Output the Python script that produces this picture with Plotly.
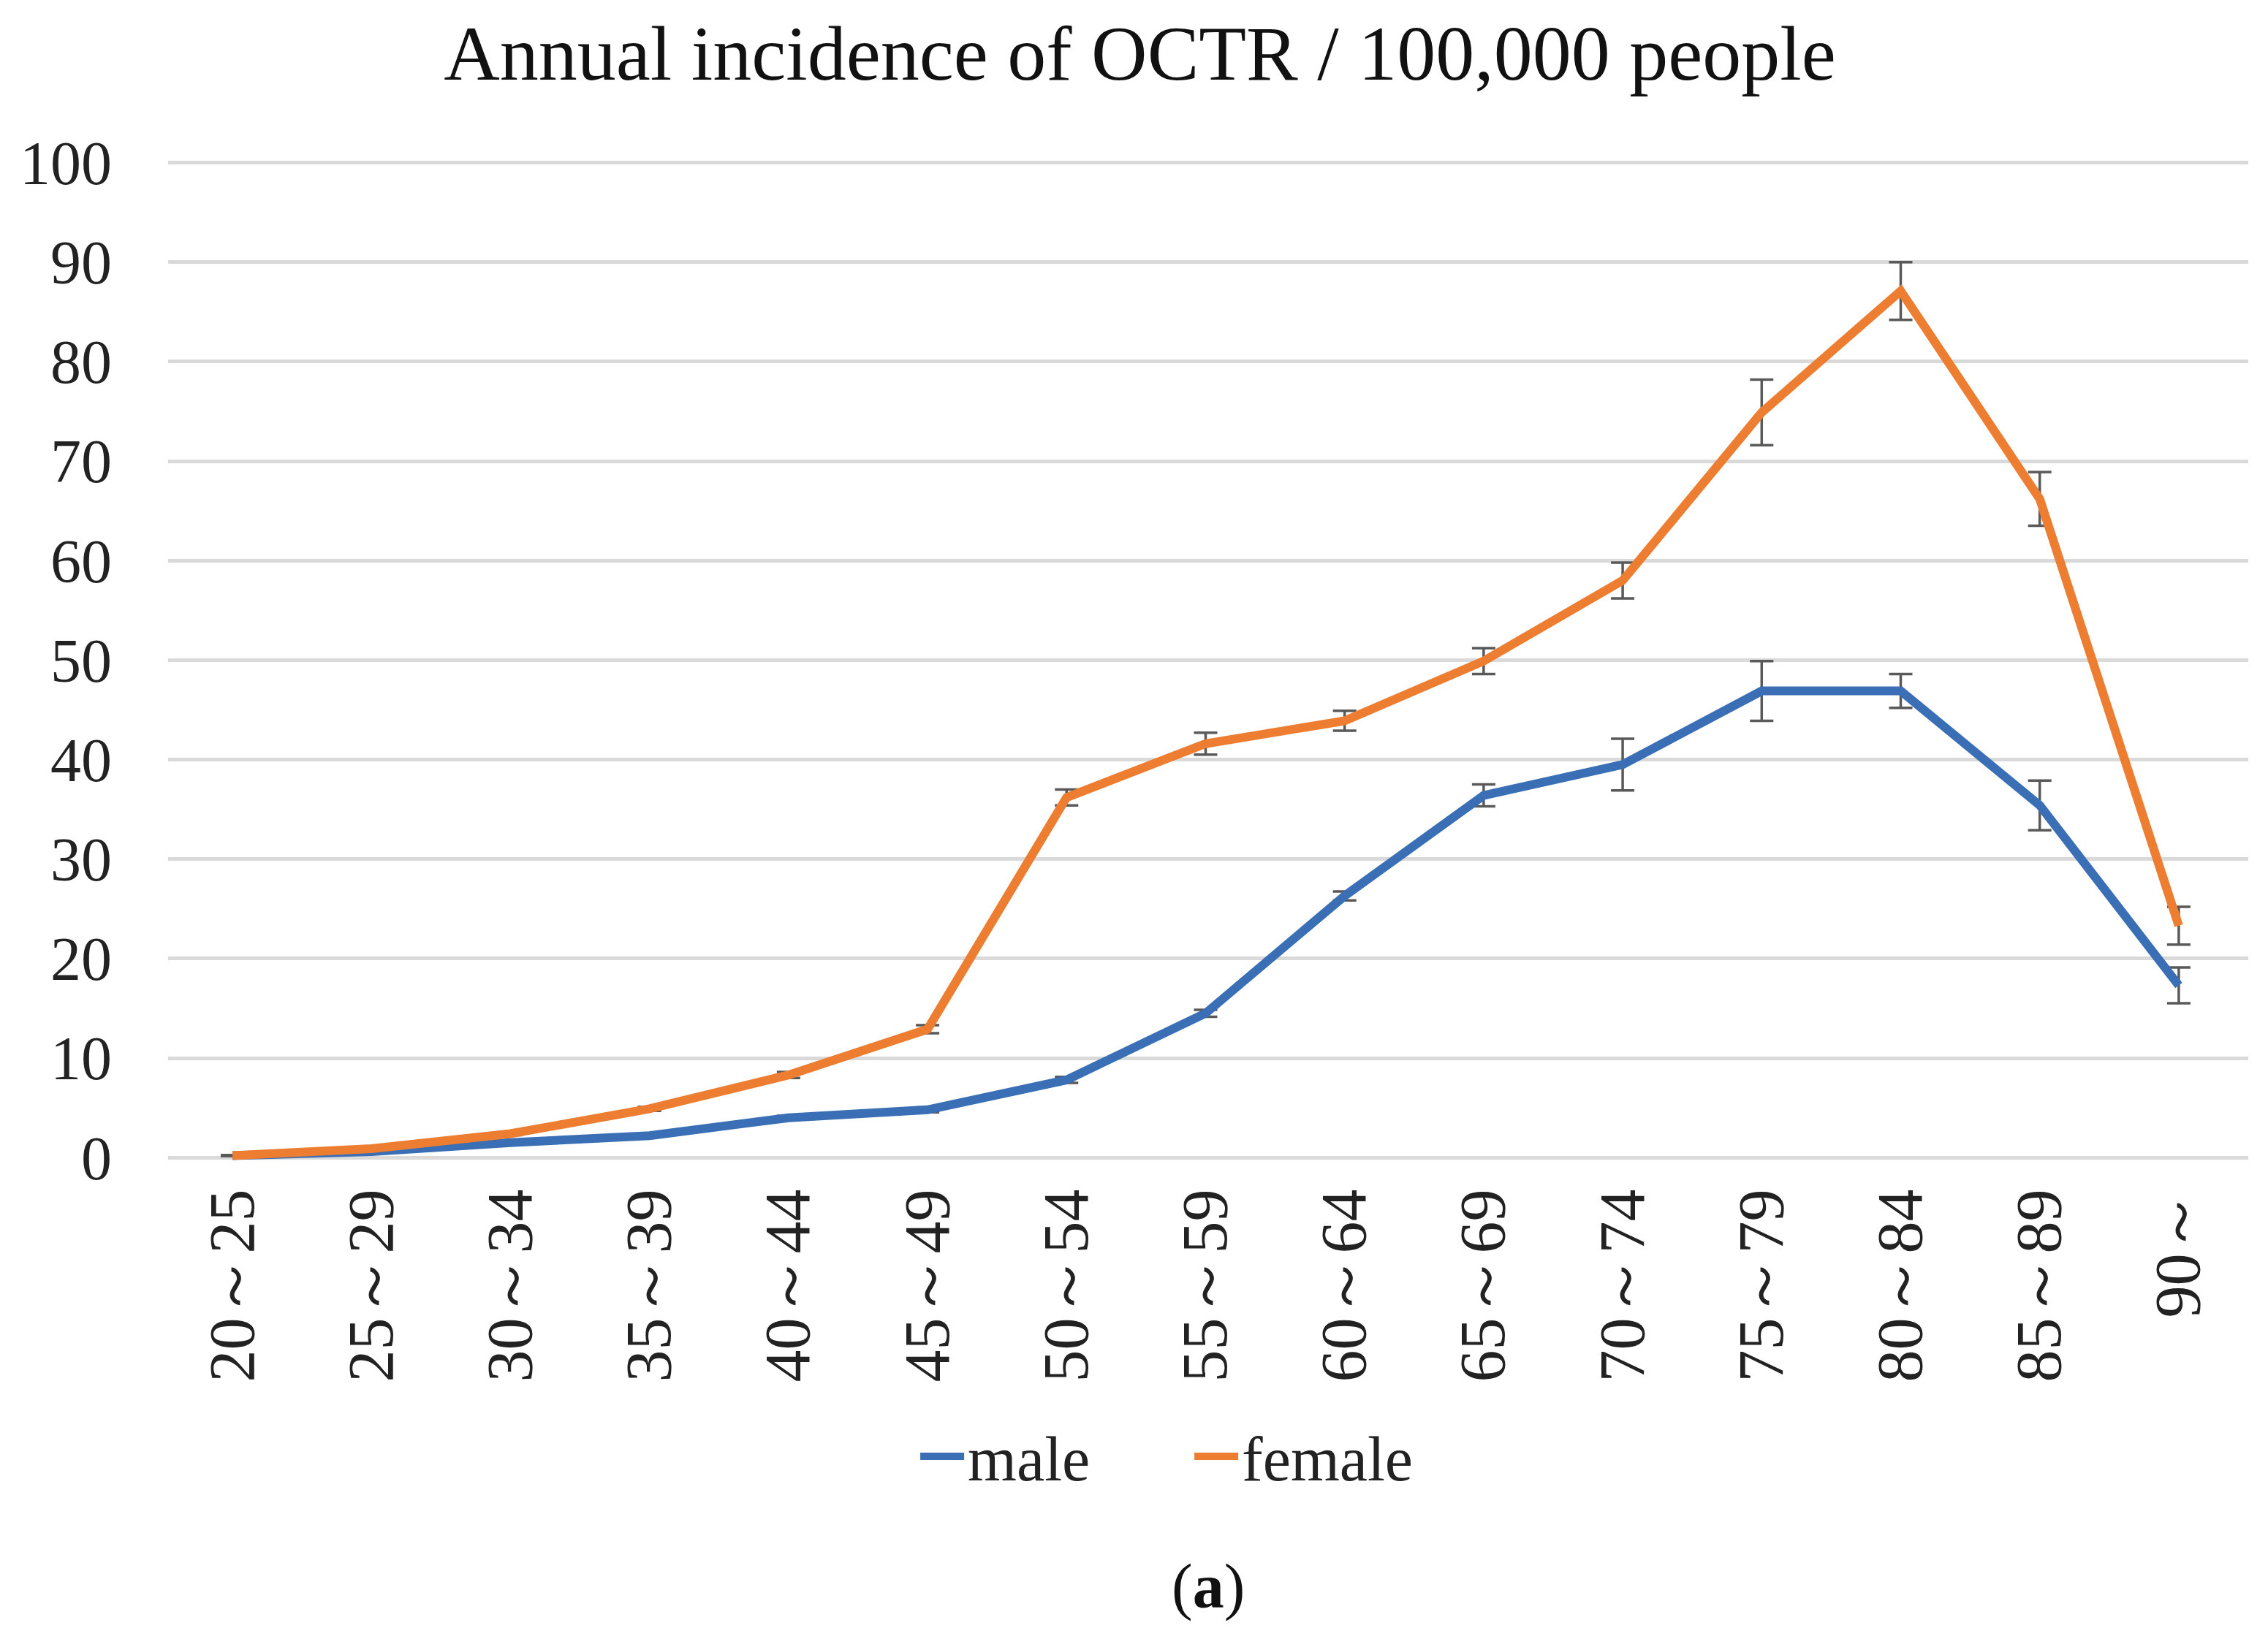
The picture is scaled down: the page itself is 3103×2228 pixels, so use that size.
import plotly.graph_objects as go

categories = ["20～25", "25～29", "30～34", "35～39", "40～44", "45～49", "50～54",
              "55～59", "60～64", "65～69", "70～74", "75～79", "80～84", "85～89", "90～"]
male = [0.2, 0.6, 1.5, 2.2, 4.0, 4.8, 7.8, 14.5, 26.3, 36.4, 39.5, 46.9, 46.9, 35.4, 17.3]
male_err = [0.05, 0.1, 0.1, 0.15, 0.2, 0.25, 0.3, 0.35, 0.45, 1.1, 2.6, 3.0, 1.7, 2.5, 1.8]
female = [0.2, 0.9, 2.4, 4.9, 8.3, 12.9, 36.2, 41.6, 43.9, 49.9, 58.0, 74.9, 87.1, 66.2, 23.3]
female_err = [0.05, 0.1, 0.15, 0.2, 0.3, 0.4, 0.8, 1.1, 1.0, 1.3, 1.8, 3.3, 2.9, 2.7, 1.9]
y_ticks = [0, 10, 20, 30, 40, 50, 60, 70, 80, 90, 100]

W, H = 3103, 2228
serif = "Times New Roman, Liberation Serif, DejaVu Serif, serif"
xpos = list(range(len(categories)))

plot_top, plot_bot = 201, H - 611
def paper_y(py):
    return (plot_bot - py) / (plot_bot - plot_top)

fig = go.Figure()
fig.add_trace(go.Scatter(
    x=xpos, y=male, mode="lines", name="male",
    line=dict(color="#3A6FB6", width=12),
    error_y=dict(type="data", array=male_err, visible=True,
                 color="#595959", thickness=3.5, width=16),
))
fig.add_trace(go.Scatter(
    x=xpos, y=female, mode="lines", name="female",
    line=dict(color="#ED7D31", width=12),
    error_y=dict(type="data", array=female_err, visible=True,
                 color="#595959", thickness=3.5, width=16),
))

fig.update_layout(
    width=W, height=H,
    paper_bgcolor="white", plot_bgcolor="white",
    margin=dict(l=222, r=35, t=plot_top, b=H - plot_bot, autoexpand=False),
    font=dict(family=serif, color="#222222"),
    title=dict(text="Annual incidence of OCTR / 100,000 people",
               x=0.5, xanchor="center", y=1 - 64 / H, yanchor="middle",
               font=dict(family=serif, size=106, color="#111111")),
    showlegend=True,
    legend=dict(orientation="h", x=0.4916, xanchor="center",
                y=paper_y(1985), yref="paper", yanchor="middle",
                font=dict(family=serif, size=86, color="#222222"),
                itemwidth=60,
                entrywidth=300, entrywidthmode="pixels",
                bgcolor="rgba(0,0,0,0)"),
    annotations=[dict(text="(<b>a</b>)", x=0.5, xref="paper", xanchor="center",
                      y=paper_y(2163), yref="paper", yanchor="middle",
                      showarrow=False,
                      font=dict(family=serif, size=86, color="#111111"))],
)

fig.update_xaxes(
    range=[-0.463, 14.5], tickmode="array", tickvals=xpos, ticktext=categories,
    tickangle=-90, showgrid=False, zeroline=False, showline=False, ticks="",
    tickfont=dict(family=serif, size=88, color="#222222"),
    ticklabelstandoff=-16,
)
fig.update_yaxes(
    range=[-3, 101], tickmode="array", tickvals=y_ticks,
    showgrid=True, gridcolor="#D9D9D9", gridwidth=5, zeroline=False,
    showline=False, ticks="",
    tickfont=dict(family=serif, size=84, color="#222222"),
    ticklabelstandoff=76,
)

fig.write_html("out.html")
